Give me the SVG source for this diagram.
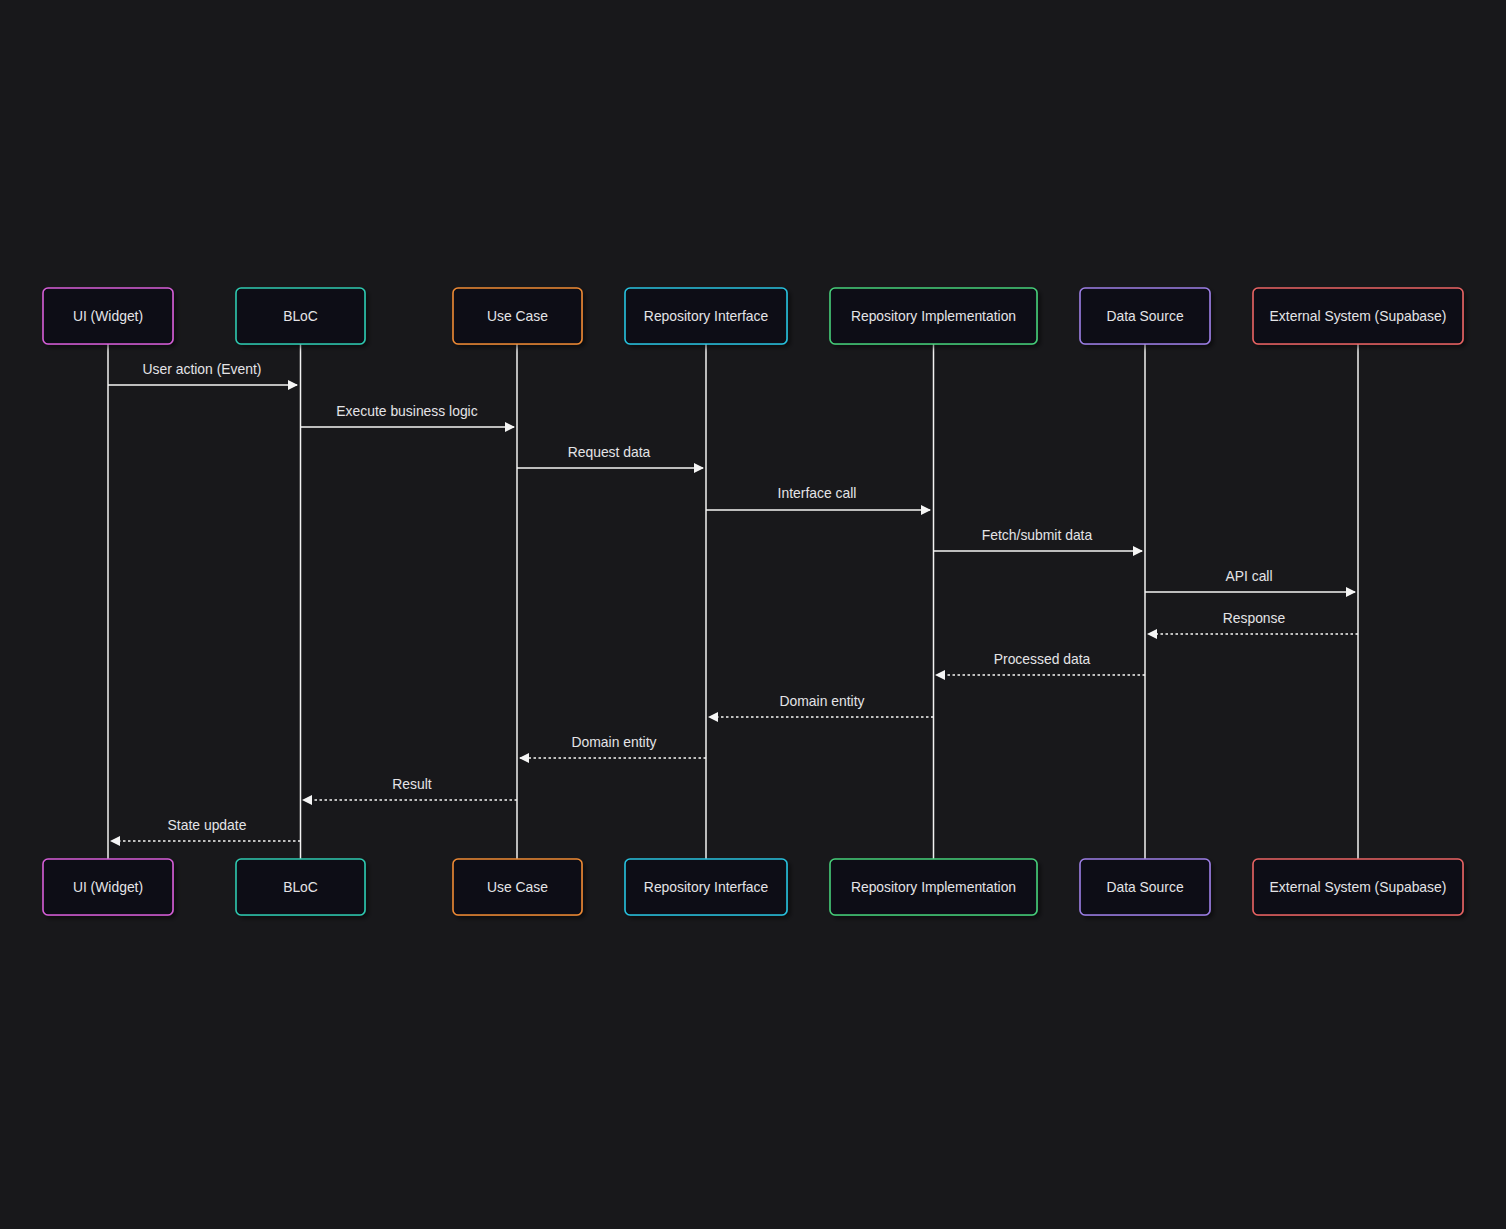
<svg xmlns="http://www.w3.org/2000/svg" width="1506" height="1229" viewBox="0 0 1506 1229">
<style>
.bg{fill:#18181b}
.box{fill:#0c0d15;stroke-width:1.6}
.t{font-family:"Liberation Sans",Arial,sans-serif;font-size:13.9px;fill:#e4e4e7;text-anchor:middle}
.life{stroke:#f2f2f2;stroke-width:1.5;fill:none}
.msg{stroke:#f5f5f5;stroke-width:1.5;fill:none}
.ret{stroke:#f5f5f5;stroke-width:1.7;fill:none;stroke-dasharray:2.5,2.5}
</style>
<defs>
<marker id="ah" markerWidth="10" markerHeight="10" refX="9" refY="5" orient="auto" markerUnits="userSpaceOnUse">
<path d="M0,0 L10,5 L0,10 z" fill="#f5f5f5"/>
</marker>
<filter id="sh" x="-10%" y="-20%" width="130%" height="150%">
<feDropShadow dx="3" dy="3" stdDeviation="2" flood-color="#000" flood-opacity="0.45"/>
</filter>
</defs>
<rect class="bg" x="0" y="0" width="1506" height="1229"/>
<g id="lifelines">
<line class="life" x1="108" y1="344" x2="108" y2="859"/>
<line class="life" x1="300.5" y1="344" x2="300.5" y2="859"/>
<line class="life" x1="517" y1="344" x2="517" y2="859"/>
<line class="life" x1="706" y1="344" x2="706" y2="859"/>
<line class="life" x1="933.5" y1="344" x2="933.5" y2="859"/>
<line class="life" x1="1145" y1="344" x2="1145" y2="859"/>
<line class="life" x1="1358" y1="344" x2="1358" y2="859"/>
</g>
<g id="n-ui">
<rect class="box" x="43" y="288" width="130" height="56" rx="5" stroke="#d65ed8" filter="url(#sh)"/>
<text class="t" x="108" y="321">UI (Widget)</text>
<rect class="box" x="43" y="859" width="130" height="56" rx="5" stroke="#d65ed8" filter="url(#sh)"/>
<text class="t" x="108" y="892">UI (Widget)</text>
</g>
<g id="n-bloc">
<rect class="box" x="236" y="288" width="129" height="56" rx="5" stroke="#2ec9b0" filter="url(#sh)"/>
<text class="t" x="300.5" y="321">BLoC</text>
<rect class="box" x="236" y="859" width="129" height="56" rx="5" stroke="#2ec9b0" filter="url(#sh)"/>
<text class="t" x="300.5" y="892">BLoC</text>
</g>
<g id="n-usecase">
<rect class="box" x="453" y="288" width="129" height="56" rx="5" stroke="#ee8a35" filter="url(#sh)"/>
<text class="t" x="517.5" y="321">Use Case</text>
<rect class="box" x="453" y="859" width="129" height="56" rx="5" stroke="#ee8a35" filter="url(#sh)"/>
<text class="t" x="517.5" y="892">Use Case</text>
</g>
<g id="n-repoif">
<rect class="box" x="625" y="288" width="162" height="56" rx="5" stroke="#28c2df" filter="url(#sh)"/>
<text class="t" x="706" y="321">Repository Interface</text>
<rect class="box" x="625" y="859" width="162" height="56" rx="5" stroke="#28c2df" filter="url(#sh)"/>
<text class="t" x="706" y="892">Repository Interface</text>
</g>
<g id="n-repoimpl">
<rect class="box" x="830" y="288" width="207" height="56" rx="5" stroke="#46cf7a" filter="url(#sh)"/>
<text class="t" x="933.5" y="321">Repository Implementation</text>
<rect class="box" x="830" y="859" width="207" height="56" rx="5" stroke="#46cf7a" filter="url(#sh)"/>
<text class="t" x="933.5" y="892">Repository Implementation</text>
</g>
<g id="n-ds">
<rect class="box" x="1080" y="288" width="130" height="56" rx="5" stroke="#9d7fe6" filter="url(#sh)"/>
<text class="t" x="1145" y="321">Data Source</text>
<rect class="box" x="1080" y="859" width="130" height="56" rx="5" stroke="#9d7fe6" filter="url(#sh)"/>
<text class="t" x="1145" y="892">Data Source</text>
</g>
<g id="n-ext">
<rect class="box" x="1253" y="288" width="210" height="56" rx="5" stroke="#ea6464" filter="url(#sh)"/>
<text class="t" x="1358" y="321">External System (Supabase)</text>
<rect class="box" x="1253" y="859" width="210" height="56" rx="5" stroke="#ea6464" filter="url(#sh)"/>
<text class="t" x="1358" y="892">External System (Supabase)</text>
</g>
<g id="connectors">
<line class="msg" x1="108" y1="385" x2="297" y2="385" marker-end="url(#ah)"/>
<text class="t" x="202" y="374">User action (Event)</text>
<line class="msg" x1="300.5" y1="427" x2="514" y2="427" marker-end="url(#ah)"/>
<text class="t" x="407" y="416">Execute business logic</text>
<line class="msg" x1="517" y1="468" x2="703" y2="468" marker-end="url(#ah)"/>
<text class="t" x="609" y="457">Request data</text>
<line class="msg" x1="706" y1="510" x2="930" y2="510" marker-end="url(#ah)"/>
<text class="t" x="817" y="498">Interface call</text>
<line class="msg" x1="933.5" y1="551" x2="1142" y2="551" marker-end="url(#ah)"/>
<text class="t" x="1037" y="540">Fetch/submit data</text>
<line class="msg" x1="1145" y1="592" x2="1355" y2="592" marker-end="url(#ah)"/>
<text class="t" x="1249" y="581">API call</text>
<line class="ret" x1="1358" y1="634" x2="1148" y2="634" marker-end="url(#ah)"/>
<text class="t" x="1254" y="623">Response</text>
<line class="ret" x1="1145" y1="675" x2="936" y2="675" marker-end="url(#ah)"/>
<text class="t" x="1042" y="664">Processed data</text>
<line class="ret" x1="933.5" y1="717" x2="709" y2="717" marker-end="url(#ah)"/>
<text class="t" x="822" y="706">Domain entity</text>
<line class="ret" x1="706" y1="758" x2="520" y2="758" marker-end="url(#ah)"/>
<text class="t" x="614" y="747">Domain entity</text>
<line class="ret" x1="517" y1="800" x2="303" y2="800" marker-end="url(#ah)"/>
<text class="t" x="412" y="789">Result</text>
<line class="ret" x1="300.5" y1="841" x2="111" y2="841" marker-end="url(#ah)"/>
<text class="t" x="207" y="830">State update</text>
</g>
</svg>
